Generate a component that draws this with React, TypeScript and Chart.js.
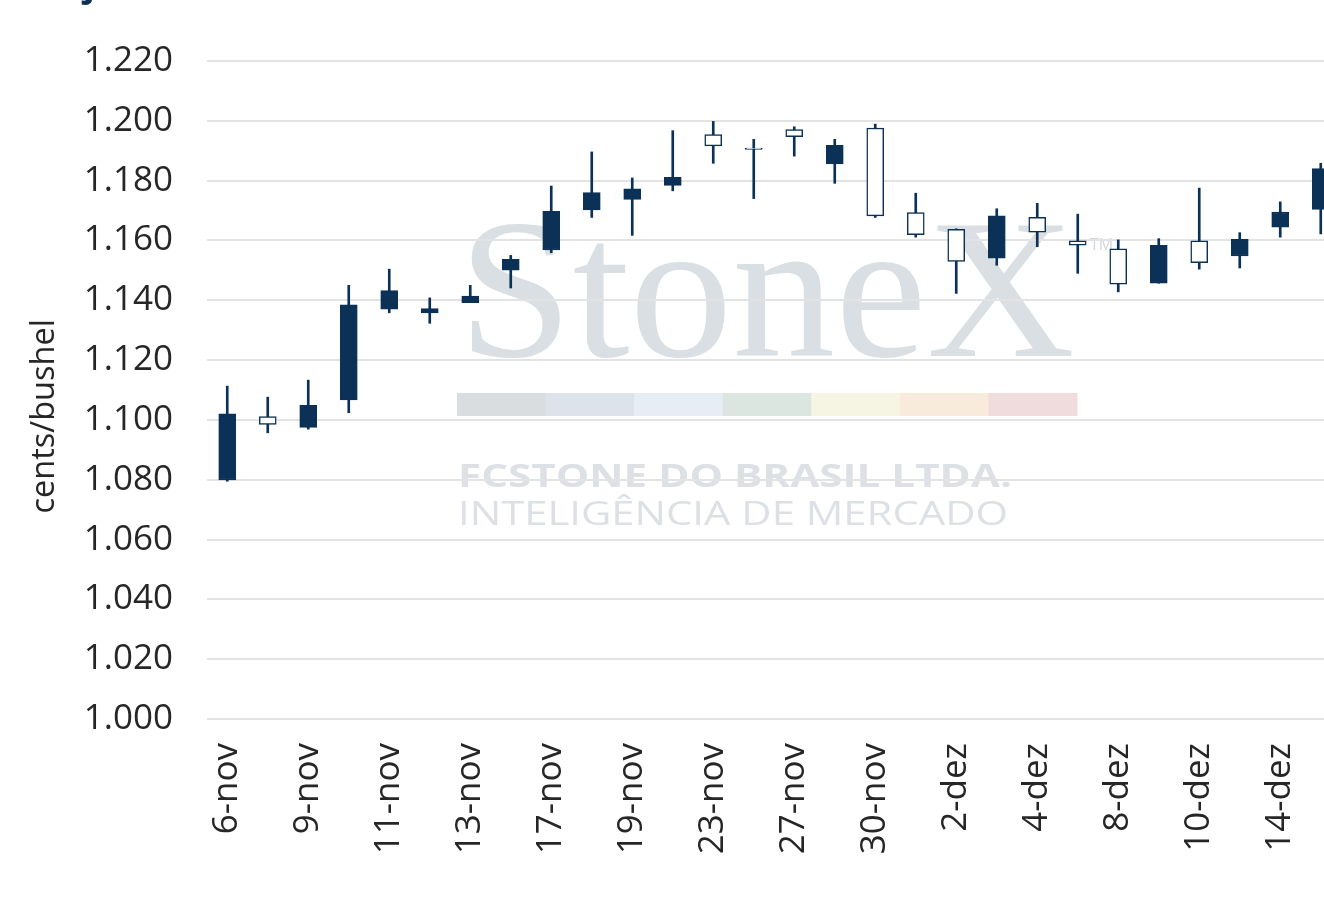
import React, { useEffect, useRef } from 'react';
import { Chart, registerables } from 'chart.js';

Chart.register(...registerables);

// ---- data (cents/bushel) ----
const dates = [
  '6-nov', '7-nov', '9-nov', '10-nov', '11-nov', '12-nov', '13-nov', '16-nov',
  '17-nov', '18-nov', '19-nov', '20-nov', '23-nov', '24-nov', '27-nov', '28-nov',
  '30-nov', '1-dez', '2-dez', '3-dez', '4-dez', '7-dez', '8-dez', '9-dez',
  '10-dez', '11-dez', '14-dez', '15-dez',
];
const openV = [
  1102.0, 1098.5, 1104.9, 1138.5, 1143.2, 1137.2, 1141.4, 1153.7,
  1169.7, 1176.0, 1177.3, 1181.1, 1191.6, 1190.4, 1194.7, 1191.8,
  1168.2, 1161.9, 1153.0, 1168.2, 1162.8, 1158.4, 1145.4, 1158.4,
  1152.6, 1160.4, 1169.5, 1184.0,
];
const highV = [
  1111.3, 1107.6, 1113.3, 1145.0, 1150.4, 1140.8, 1145.0, 1155.0,
  1178.2, 1189.6, 1180.9, 1196.7, 1199.8, 1193.8, 1198.0, 1193.8,
  1198.9, 1175.8, 1163.9, 1170.6, 1172.4, 1168.8, 1160.2, 1160.6,
  1177.5, 1162.6, 1172.9, 1185.8,
];
const lowV = [
  1079.5, 1095.7, 1096.9, 1102.4, 1135.8, 1132.3, 1139.2, 1144.1,
  1155.9, 1167.7, 1161.7, 1176.6, 1185.8, 1174.0, 1188.2, 1179.1,
  1167.7, 1161.1, 1142.3, 1151.7, 1157.9, 1149.0, 1142.8, 1145.7,
  1150.4, 1150.8, 1161.1, 1162.2,
];
const closeV = [
  1079.9, 1101.1, 1097.5, 1106.7, 1137.0, 1135.8, 1139.2, 1150.1,
  1156.8, 1170.2, 1173.7, 1178.4, 1195.4, 1190.9, 1197.1, 1185.6,
  1197.6, 1169.3, 1163.7, 1154.1, 1167.7, 1159.9, 1157.2, 1145.7,
  1159.9, 1154.8, 1164.4, 1170.4,
];
const yMin = 1000;
const yMax = 1220;
const yStep = 20;
const yTitle = 'cents/bushel';
const titleText = 'Soja';

const NAVY = '#0B3157';
const TEXT = '#262626';
const FONT = "'Open Sans', 'DejaVu Sans', sans-serif";

const watermarkPlugin = {
  id: 'watermark',
  beforeDraw(chart: any) {
    const ctx = chart.ctx as CanvasRenderingContext2D;
    ctx.save();
    // big StoneX
    ctx.fillStyle = '#DADFE3';
    ctx.font = "200px 'Liberation Serif', serif";
    ctx.textBaseline = 'alphabetic';
    const w = ctx.measureText('StoneX').width;
    ctx.save();
    ctx.translate(458, 356);
    ctx.scale(617 / w, 1);
    ctx.fillText('StoneX', 0, 0);
    ctx.restore();
    ctx.font = "16px 'Open Sans', sans-serif";
    ctx.fillStyle = '#D3D8DC';
    ctx.fillText('TM', 1090, 250);
    // colour strip
    const strip = ['#D9DDE0', '#DCE3EA', '#E6EDF5', '#DCE6E0', '#F6F5E4', '#F8EBDC', '#F0DCDC'];
    const sw = (1077 - 457) / strip.length;
    strip.forEach((c, i) => {
      ctx.fillStyle = c;
      ctx.fillRect(457 + i * sw, 393, sw + 0.5, 23);
    });
    // texts
    const fitText = (t: string, font: string, x: number, y: number, target: number) => {
      ctx.font = font;
      const mw = ctx.measureText(t).width;
      ctx.save();
      ctx.translate(x, y);
      ctx.scale(target / mw, 1);
      ctx.fillText(t, 0, 0);
      ctx.restore();
    };
    ctx.fillStyle = '#DDE0E4';
    fitText('FCSTONE DO BRASIL LTDA.', "bold 32px 'Open Sans', sans-serif", 458, 487, 554);
    fitText('INTELIGÊNCIA DE MERCADO', "32px 'Open Sans', sans-serif", 458, 525, 550);
    ctx.restore();
  },
  afterDraw(chart: any) {
    const ctx = chart.ctx as CanvasRenderingContext2D;
    const area = chart.chartArea;
    ctx.save();
    // y-axis title
    ctx.fillStyle = TEXT;
    ctx.font = `32.5px ${FONT}`;
    ctx.textAlign = 'center';
    ctx.textBaseline = 'middle';
    ctx.translate(45, area.top + (area.bottom - area.top) * 0.54);
    ctx.rotate(-Math.PI / 2);
    ctx.fillText(yTitle, 0, 0);
    ctx.restore();
    // cut-off title at top
    ctx.save();
    ctx.fillStyle = NAVY;
    ctx.font = `bold 36px ${FONT}`;
    ctx.textBaseline = 'alphabetic';
    const so = ctx.measureText('So').width;
    ctx.fillText(titleText, 84 - so, -4);
    ctx.restore();
  },
};

export default function App() {
  const ref = useRef<HTMLCanvasElement | null>(null);

  useEffect(() => {
    if (!ref.current) return;
    const bodies = dates.map((_, i) => [openV[i], closeV[i]]);
    const wicks = dates.map((_, i) => [lowV[i], highV[i]]);
    const fills = dates.map((_, i) => (closeV[i] > openV[i] ? '#FFFFFF' : NAVY));

    const chart = new Chart(ref.current, {
      type: 'bar',
      data: {
        labels: dates,
        datasets: [
          {
            label: 'body',
            data: bodies as any,
            backgroundColor: fills,
            borderColor: NAVY,
            borderWidth: 1.5,
            borderSkipped: false,
            barThickness: 17,
            grouped: false,
            order: 0,
          } as any,
          {
            label: 'wick',
            data: wicks as any,
            backgroundColor: NAVY,
            borderWidth: 0,
            barThickness: 2,
            grouped: false,
            order: 1,
          } as any,
        ],
      },
      options: {
        animation: false,
        responsive: false,
        maintainAspectRatio: false,
        layout: { padding: { top: 61, right: 24, left: 0, bottom: 0 } },
        plugins: {
          legend: { display: false },
          tooltip: { enabled: false },
          title: { display: false },
        },
        scales: {
          x: {
            type: 'category',
            offset: true,
            grid: { display: false, drawTicks: false },
            border: { display: false },
            ticks: {
              autoSkip: false,
              minRotation: 90,
              maxRotation: 90,
              padding: 24,
              color: TEXT,
              font: { family: FONT, size: 35 },
              callback: (_v: any, i: number) => (i % 2 === 0 ? dates[i] : null),
            },
            afterFit: (s: any) => {
              s.height = 188;
            },
          },
          y: {
            min: yMin,
            max: yMax,
            grid: { color: '#E3E3E3', lineWidth: 2, drawTicks: false },
            border: { display: false },
            ticks: {
              stepSize: yStep,
              padding: 34,
              color: TEXT,
              font: { family: FONT, size: 35 },
              callback: (v: any) => (Number(v) / 1000).toFixed(3),
            },
            afterFit: (s: any) => {
              s.width = 207;
            },
          },
        },
      } as any,
      plugins: [watermarkPlugin],
    });
    return () => chart.destroy();
  }, []);

  return (
    <div style={{ position: 'absolute', left: 0, top: 0, width: 1324, height: 907, overflow: 'hidden', background: '#fff' }}>
      <canvas ref={ref} width={1365} height={907} style={{ display: 'block' }} />
    </div>
  );
}
